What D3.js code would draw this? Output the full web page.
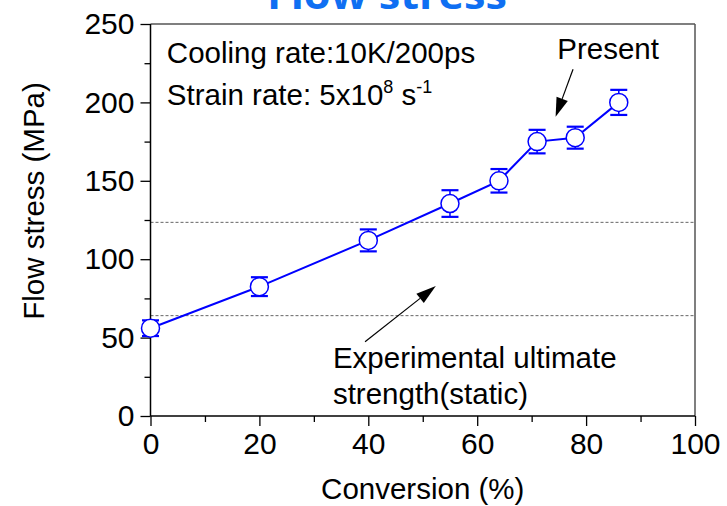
<!DOCTYPE html>
<html>
<head>
<meta charset="utf-8">
<script src="https://cdn.jsdelivr.net/npm/d3@7"></script>
<style>
  html, body { margin: 0; padding: 0; background: #fff; }
  svg { display: block; }
  text { font-family: "Liberation Sans", Arial, sans-serif; fill: #000; }
</style>
</head>
<body>
<svg id="chart" width="727" height="506"></svg>
<script>
// Flow stress vs. conversion, with error bars
const conversion = [0, 20, 40, 55, 64, 71, 78, 86];
const flowStress = [56, 82.5, 112, 135.5, 150, 175, 177.5, 200];
const stressError = [5, 6, 7, 8.5, 7.5, 7.5, 7, 8];

// Static experimental ultimate strength band (MPa)
const strengthBand = [64, 123.5];

const xTicks = [0, 20, 40, 60, 80, 100];
const xMinorTicks = [10, 30, 50, 70, 90];
const yTicks = [0, 50, 100, 150, 200, 250];
const yMinorTicks = [25, 75, 125, 175, 225];

const svg = d3.select("#chart");
const plotLeft = 150.5, plotRight = 695, plotTop = 24, plotBottom = 416;

const x = d3.scaleLinear().domain([0, 100]).range([plotLeft, plotRight]);
const y = d3.scaleLinear().domain([0, 250]).range([plotBottom, plotTop]);

// Title (partially above the canvas)
svg.append("text")
  .attr("x", 387).attr("y", 9)
  .attr("text-anchor", "middle")
  .attr("textLength", 240).attr("lengthAdjust", "spacingAndGlyphs")
  .style("font-family", "'Open Sans', sans-serif")
  .style("font-weight", "bold")
  .style("font-size", "40px")
  .style("fill", "#0f6ff2")
  .text("Flow stress");

// Minor ticks
const gx = svg.append("g").attr("transform", `translate(0,${plotBottom})`);
gx.call(d3.axisBottom(x).tickValues(xMinorTicks).tickSize(6).tickFormat(""));
const gy = svg.append("g").attr("transform", `translate(${plotLeft},0)`);
gy.call(d3.axisLeft(y).tickValues(yMinorTicks).tickSize(6).tickFormat(""));

// Major ticks with labels
const gx2 = svg.append("g").attr("transform", `translate(0,${plotBottom})`)
  .call(d3.axisBottom(x).tickValues(xTicks).tickSize(10).tickPadding(7).tickFormat(d3.format("d")));
const gy2 = svg.append("g").attr("transform", `translate(${plotLeft},0)`)
  .call(d3.axisLeft(y).tickValues(yTicks).tickSize(10).tickPadding(6).tickFormat(d3.format("d")));

[gx, gy, gx2, gy2].forEach(g => {
  g.select(".domain").remove();
  g.selectAll(".tick line").attr("stroke", "#000").attr("stroke-width", 1.3);
  g.selectAll(".tick text")
    .style("font-family", "'Liberation Sans', Arial, sans-serif")
    .style("font-size", "30px").attr("fill", "#000");
});

// Dashed band limits
svg.selectAll("line.band").data(strengthBand).enter().append("line")
  .attr("class", "band")
  .attr("x1", x(0)).attr("x2", x(100))
  .attr("y1", d => y(d)).attr("y2", d => y(d))
  .attr("stroke", "#666").attr("stroke-width", 1)
  .attr("stroke-dasharray", "3,2");

// Frame
svg.append("line").attr("x1", x(0)).attr("x2", x(100)).attr("y1", y(250)).attr("y2", y(250))
  .attr("stroke", "#555").attr("stroke-width", 1.5);
svg.append("line").attr("x1", x(100)).attr("x2", x(100)).attr("y1", y(250)).attr("y2", y(0))
  .attr("stroke", "#555").attr("stroke-width", 1.5);
svg.append("line").attr("x1", x(0)).attr("x2", x(100)).attr("y1", y(0)).attr("y2", y(0))
  .attr("stroke", "#000").attr("stroke-width", 1.5);
svg.append("line").attr("x1", x(0)).attr("x2", x(0)).attr("y1", y(250)).attr("y2", y(0))
  .attr("stroke", "#000").attr("stroke-width", 1.5);

// Series
const pts = conversion.map((c, i) => ({ c, s: flowStress[i], e: stressError[i] }));
const blue = "#0000ff";

svg.append("path").datum(pts)
  .attr("fill", "none").attr("stroke", blue).attr("stroke-width", 2)
  .attr("d", d3.line().x(d => x(d.c)).y(d => y(d.s)));

const eb = svg.append("g").selectAll("g").data(pts).enter().append("g");
eb.append("line")
  .attr("x1", d => x(d.c)).attr("x2", d => x(d.c))
  .attr("y1", d => y(d.s - d.e)).attr("y2", d => y(d.s + d.e))
  .attr("stroke", blue).attr("stroke-width", 1.5);
eb.append("line")
  .attr("x1", d => x(d.c) - 8.5).attr("x2", d => x(d.c) + 8.5)
  .attr("y1", d => y(d.s + d.e)).attr("y2", d => y(d.s + d.e))
  .attr("stroke", blue).attr("stroke-width", 2.2);
eb.append("line")
  .attr("x1", d => x(d.c) - 8.5).attr("x2", d => x(d.c) + 8.5)
  .attr("y1", d => y(d.s - d.e)).attr("y2", d => y(d.s - d.e))
  .attr("stroke", blue).attr("stroke-width", 2.2);
eb.append("circle")
  .attr("cx", d => x(d.c)).attr("cy", d => y(d.s)).attr("r", 9)
  .attr("fill", "#fff").attr("stroke", blue).attr("stroke-width", 1.5);

// Annotation text
const annotFont = "29.5px";
svg.append("text").attr("x", x(3)).attr("y", y(225.1))
  .style("font-size", annotFont).text("Cooling rate:10K/200ps");

const sr = svg.append("text").attr("x", x(3)).attr("y", y(198.3)).style("font-size", annotFont);
sr.append("tspan").text("Strain rate: 5x10");
sr.append("tspan").attr("dy", -12).style("font-size", "18px").text("8");
sr.append("tspan").attr("dy", 12).text(" s");
sr.append("tspan").attr("dy", -12).style("font-size", "18px").text("-1");

svg.append("text").attr("x", x(74.7)).attr("y", y(227.7))
  .style("font-size", annotFont).text("Present");

svg.append("text").attr("x", x(33.5)).attr("y", y(30.8))
  .style("font-size", annotFont).text("Experimental ultimate");
svg.append("text").attr("x", x(33.5)).attr("y", y(7.7))
  .style("font-size", annotFont).text("strength(static)");

// Arrows: tail and tip in data units
const arrows = [
  { from: [77.6, 221.1], to: [74.4, 190.9], len: 19, half: 6 },
  { from: [39.4, 47.4], to: [52.4, 82.9], len: 20, half: 6 }
];
arrows.forEach(a => {
  const x0 = x(a.from[0]), y0 = y(a.from[1]);
  const x1 = x(a.to[0]), y1 = y(a.to[1]);
  const dx = x1 - x0, dy = y1 - y0, L = Math.hypot(dx, dy);
  const ux = dx / L, uy = dy / L;
  const bx = x1 - ux * a.len, by = y1 - uy * a.len;
  svg.append("line").attr("x1", x0).attr("y1", y0).attr("x2", bx).attr("y2", by)
    .attr("stroke", "#000").attr("stroke-width", 1.2);
  svg.append("path")
    .attr("d", `M${x1},${y1}L${bx - uy * a.half},${by + ux * a.half}L${bx + uy * a.half},${by - ux * a.half}Z`)
    .attr("fill", "#000");
});

// Axis titles
svg.append("text").attr("x", (x(0) + x(100)) / 2).attr("y", 499)
  .attr("text-anchor", "middle").style("font-size", "29.5px").text("Conversion (%)");
svg.append("text").attr("transform", "translate(43.5,201) rotate(-90)")
  .attr("text-anchor", "middle").style("font-size", "29.5px").text("Flow stress (MPa)");
</script>
</body>
</html>
